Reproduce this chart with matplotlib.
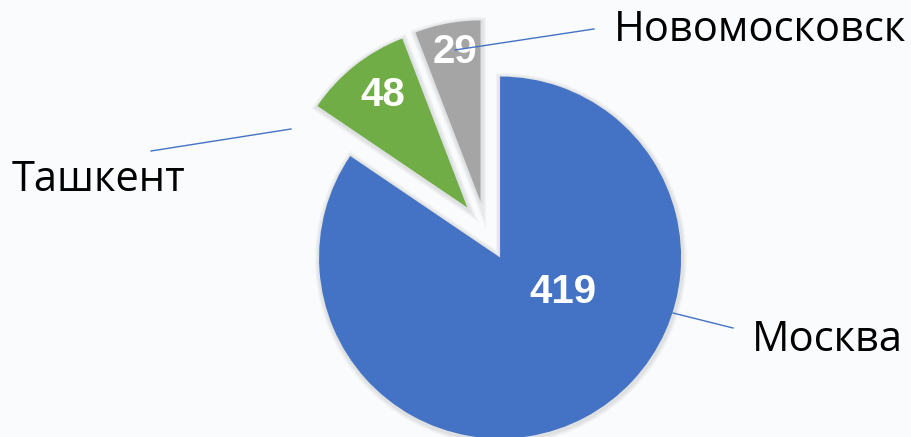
import matplotlib
matplotlib.use("Agg")
import matplotlib.pyplot as plt
from matplotlib.patches import Wedge

cities = ["Москва", "Ташкент", "Новомосковск"]
counts = [419, 48, 29]
colors = ["#4472C4", "#70AD47", "#A5A5A5"]

W, H = 912, 437
CX, CY, R = 486, 231, 181   # pie centre and radius in pixels


def px(x, y):
    # pixel (from top-left) -> data units, radius 1
    return (x - CX) / R, (CY - y) / R


fig = plt.figure(figsize=(W / 100, H / 100), dpi=100)
fig.patch.set_facecolor("#f9fbfc")
ax = fig.add_axes([0, 0, 1, 1])
ax.set_facecolor("#f9fbfc")

wedges, _ = ax.pie(counts, colors=colors, startangle=90, counterclock=False,
                   explode=[0.166] * 3, radius=1.0,
                   wedgeprops=dict(linewidth=0, zorder=3))

# soft shadow behind the slices
for w in wedges:
    for lw in (7, 5, 3):
        sh = Wedge((w.center[0] + 0.004, w.center[1] - 0.008), w.r, w.theta1, w.theta2,
                   facecolor="none", edgecolor="#000000", alpha=0.035,
                   linewidth=lw, zorder=1)
        ax.add_patch(sh)

ax.set_xlim(-CX / R, (W - CX) / R)
ax.set_ylim(-(H - CY) / R, CY / R)
ax.set_aspect("equal")
ax.axis("off")

# value labels inside slices
value_pos = [(563, 292), (383, 95), (455, 52)]
for v, (x, y) in zip(counts, value_pos):
    ax.text(*px(x, y), str(v), color="white", fontsize=29, fontweight="bold",
            family="Liberation Sans", ha="center", va="center", zorder=5)

# leader lines and category labels
leaders = [((673, 313), (733, 328)), ((291, 129), (151, 151)), ((455, 50), (594, 29))]
for (a, b) in leaders:
    xa, ya = px(*a)
    xb, yb = px(*b)
    ax.plot([xa, xb], [ya, yb], color="#4472C4", linewidth=1, zorder=6)

label_pos = [(752, 340), (12, 180), (614, 30)]
for name, (x, y) in zip(cities, label_pos):
    ax.text(*px(x, y), name, color="black", fontsize=30, family="Open Sans",
            ha="left", va="center")

fig.savefig("out.png", dpi=100, facecolor=fig.get_facecolor())
